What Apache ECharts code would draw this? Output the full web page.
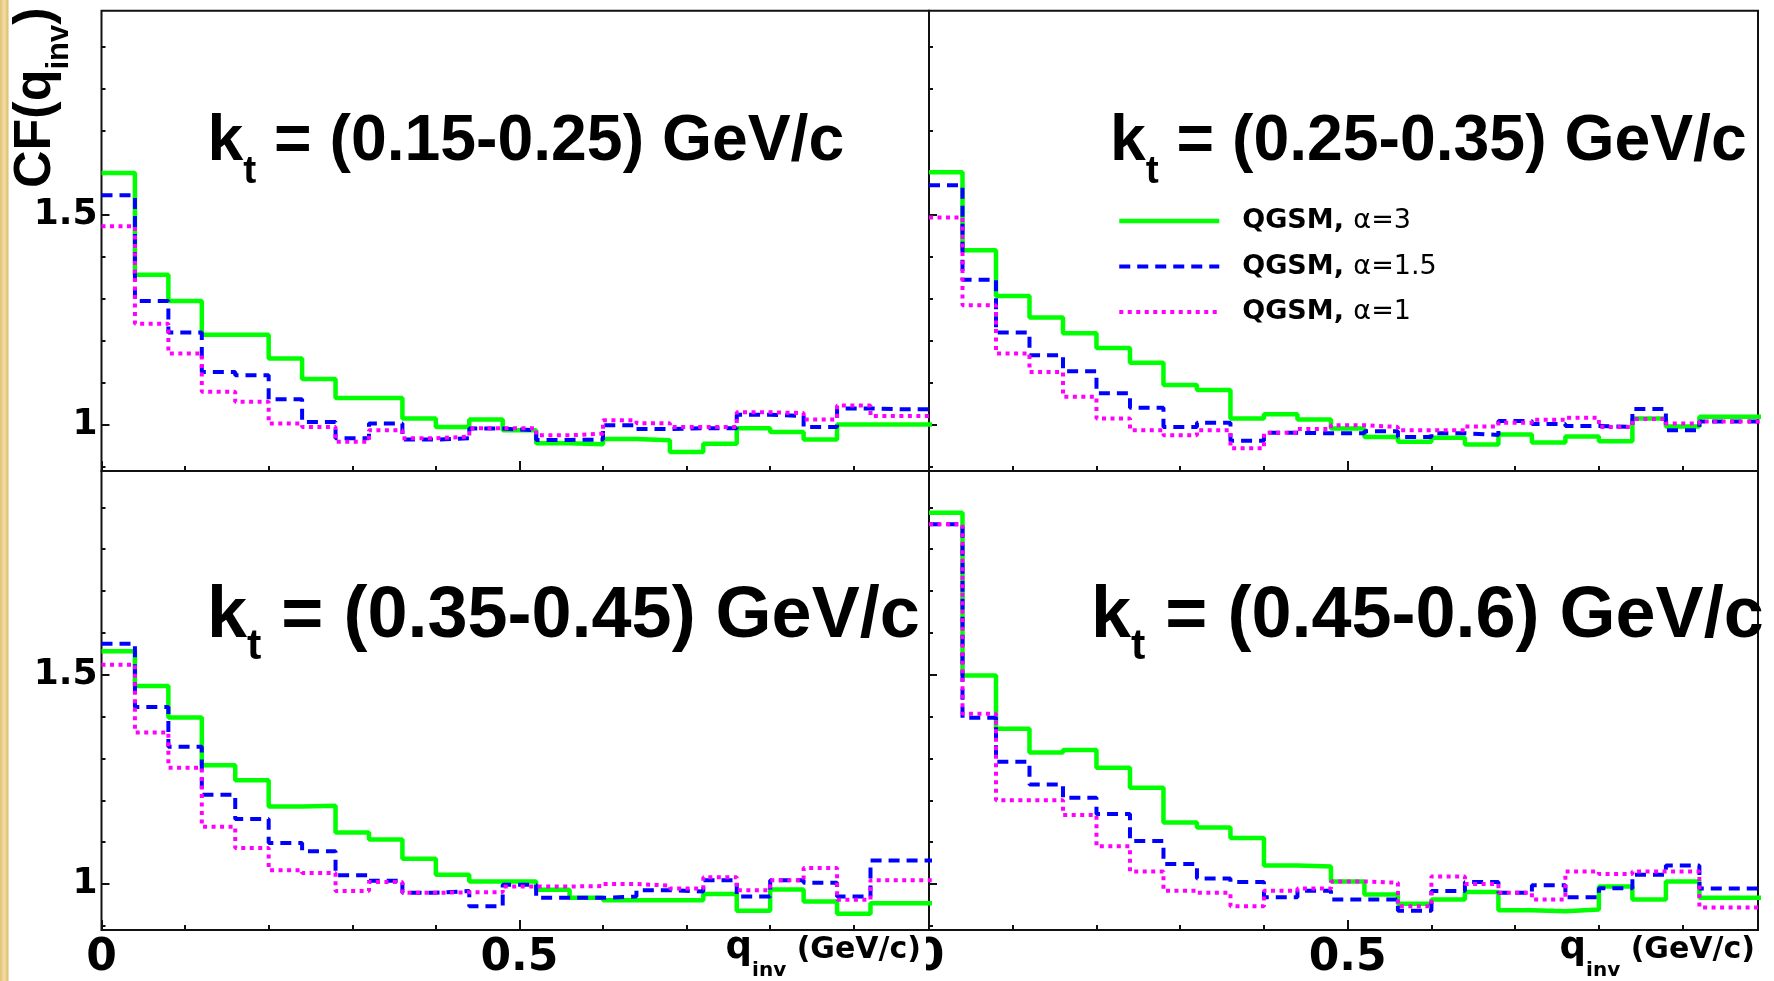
<!DOCTYPE html>
<html>
<head>
<meta charset="utf-8">
<script src="https://cdn.jsdelivr.net/npm/echarts@6/dist/echarts.min.js"></script>
<style>
  html, body { margin: 0; padding: 0; background: #ffffff; }
  #chart { width: 1774px; height: 981px; }
</style>
</head>
<body>
<div id="chart"></div>
<script>
// Histogram bin edges in q_inv (GeV/c)
const binEdges = [0, 0.04, 0.08, 0.12, 0.16, 0.2, 0.24, 0.28, 0.32, 0.36, 0.4, 0.44, 0.48,
  0.52, 0.56, 0.6, 0.64, 0.68, 0.72, 0.76, 0.8, 0.84, 0.88, 0.92, 0.96, 1.0];

// k_t ranges of the four panels
const ktRanges = ['(0.15-0.25)', '(0.25-0.35)', '(0.35-0.45)', '(0.45-0.6)'];

// Correlation function per bin, k_t = 0.15-0.25 GeV/c
const cfKt1Alpha3  = [1.600, 1.358, 1.295, 1.215, 1.215, 1.158, 1.109, 1.064, 1.064, 1.015, 0.995, 1.013, 0.987, 0.956, 0.954, 0.966, 0.963, 0.935, 0.955, 0.992, 0.983, 0.965, 1.001, 1.001, 1.001];
const cfKt1Alpha15 = [1.547, 1.295, 1.220, 1.126, 1.118, 1.061, 1.007, 0.968, 1.003, 0.965, 0.968, 0.991, 0.987, 0.964, 0.965, 0.999, 0.990, 0.992, 0.992, 1.024, 1.021, 0.995, 1.039, 1.037, 1.037];
const cfKt1Alpha1  = [1.473, 1.241, 1.170, 1.079, 1.055, 1.003, 0.995, 0.960, 0.987, 0.968, 0.972, 0.992, 0.992, 0.975, 0.979, 1.011, 1.004, 0.995, 0.995, 1.030, 1.028, 1.013, 1.046, 1.021, 1.021];

// k_t = 0.25-0.35 GeV/c
const cfKt2Alpha3  = [1.602, 1.416, 1.307, 1.256, 1.218, 1.183, 1.148, 1.095, 1.083, 1.015, 1.025, 1.013, 0.991, 0.971, 0.960, 0.969, 0.953, 0.977, 0.958, 0.972, 0.961, 1.015, 0.996, 1.019, 1.019];
const cfKt2Alpha15 = [1.571, 1.346, 1.220, 1.166, 1.128, 1.075, 1.041, 0.995, 1.005, 0.962, 0.981, 0.980, 0.980, 0.985, 0.971, 0.980, 0.976, 1.009, 1.002, 0.997, 0.995, 1.038, 0.987, 1.008, 1.008];
const cfKt2Alpha1  = [1.494, 1.285, 1.170, 1.126, 1.067, 1.015, 0.987, 0.975, 0.987, 0.944, 0.981, 0.990, 0.999, 0.995, 0.987, 0.987, 0.996, 1.005, 1.012, 1.017, 0.995, 1.014, 1.003, 1.008, 1.008];

// k_t = 0.35-0.45 GeV/c
const cfKt3Alpha3  = [1.556, 1.473, 1.398, 1.284, 1.248, 1.185, 1.187, 1.123, 1.106, 1.060, 1.022, 1.006, 1.006, 0.986, 0.967, 0.961, 0.961, 0.961, 0.976, 0.936, 0.987, 0.958, 0.929, 0.954, 0.954];
const cfKt3Alpha15 = [1.574, 1.423, 1.328, 1.213, 1.155, 1.098, 1.078, 1.021, 1.008, 0.979, 0.983, 0.947, 0.998, 0.967, 0.967, 0.970, 0.985, 0.982, 1.009, 0.970, 1.009, 1.003, 0.970, 1.056, 1.056];
const cfKt3Alpha1  = [1.524, 1.362, 1.278, 1.137, 1.086, 1.033, 1.026, 0.983, 1.005, 0.979, 0.980, 0.980, 0.994, 0.994, 0.995, 1.000, 0.996, 0.989, 1.016, 0.985, 1.009, 1.038, 0.962, 1.009, 1.009];

// k_t = 0.45-0.6 GeV/c
const cfKt4Alpha3  = [1.887, 1.498, 1.371, 1.314, 1.320, 1.278, 1.230, 1.147, 1.135, 1.110, 1.044, 1.042, 1.006, 0.975, 0.953, 0.963, 0.981, 0.937, 0.935, 0.939, 0.994, 0.963, 1.006, 0.967, 0.967];
const cfKt4Alpha15 = [1.860, 1.397, 1.292, 1.238, 1.206, 1.167, 1.103, 1.048, 1.013, 1.005, 0.968, 0.984, 0.963, 0.963, 0.936, 0.983, 1.005, 0.979, 0.997, 0.968, 0.990, 1.022, 1.044, 0.989, 0.989];
const cfKt4Alpha1  = [1.860, 1.407, 1.200, 1.200, 1.165, 1.090, 1.030, 0.984, 0.979, 0.947, 0.984, 0.989, 1.006, 1.003, 0.947, 1.018, 1.000, 0.979, 0.963, 1.030, 1.024, 1.030, 1.030, 0.944, 0.944];

// Axis ticks and labels
const xMinorTicks = [0.1, 0.2, 0.3, 0.4, 0.6, 0.7, 0.8, 0.9];
const xMajorTicks = [0, 0.5];
const xTickLabels = [0, 0.5];
const yMinorTicks = [0.9, 1.1, 1.2, 1.3, 1.4, 1.6, 1.7, 1.8, 1.9];
const yMajorTicks = [1.0, 1.5];
const yTickLabels = [1, 1.5];

const seriesNames = ['QGSM, \u03b1=3', 'QGSM, \u03b1=1.5', 'QGSM, \u03b1=1'];

const panelData = [
  [cfKt1Alpha3, cfKt1Alpha15, cfKt1Alpha1],
  [cfKt2Alpha3, cfKt2Alpha15, cfKt2Alpha1],
  [cfKt3Alpha3, cfKt3Alpha15, cfKt3Alpha1],
  [cfKt4Alpha3, cfKt4Alpha15, cfKt4Alpha1]
];

const X_MIN = 0, X_MAX = 0.99, Y_MIN = 0.89, Y_MAX = 1.987;
const FRAME = '#111111';

const lineStyles = [
  { color: '#00ff00', width: 4.5, type: 'solid' },
  { color: '#0000ff', width: 4, type: [11, 7] },
  { color: '#ff00ff', width: 4, type: [4, 4.5] }
];

const panels = [
  { left: 101.5, top: 10.7, width: 827.5, height: 460.3, showX: false, showY: true },
  { left: 929,   top: 10.7, width: 829,   height: 460.3, showX: false, showY: false },
  { left: 101.5, top: 471,  width: 827.5, height: 461.5, showX: true,  showY: true },
  { left: 929,   top: 471,  width: 829,   height: 461.5, showX: true,  showY: false }
];

// Step-histogram points: each bin value starts at its lower edge
function histPoints(values) {
  const pts = values.map((v, i) => [binEdges[i], v]);
  pts.push([binEdges[values.length], values[values.length - 1]]);
  return pts;
}

const grids = [], xAxes = [], yAxes = [], series = [];
panels.forEach((p, g) => {
  grids.push({
    left: p.left, top: p.top, width: p.width, height: p.height,
    show: true, borderColor: FRAME, borderWidth: 2, backgroundColor: 'transparent'
  });
  const tickLine = { color: FRAME, width: 2 };
  xAxes.push({
    type: 'value', gridIndex: g, min: X_MIN, max: X_MAX, position: 'bottom',
    axisLine: { show: false }, splitLine: { show: false },
    axisTick: { show: true, inside: true, length: 5, customValues: xMinorTicks, lineStyle: tickLine },
    axisLabel: {
      show: p.showX, customValues: xTickLabels, margin: 7, color: '#000',
      fontFamily: 'DejaVu Sans', fontWeight: 'bold', fontSize: 44,
      formatter: v => String(v)
    }
  });
  xAxes.push({
    type: 'value', gridIndex: g, min: X_MIN, max: X_MAX, position: 'bottom',
    axisLine: { show: false }, splitLine: { show: false }, axisLabel: { show: false },
    axisTick: { show: true, inside: true, length: 10, customValues: xMajorTicks, lineStyle: tickLine }
  });
  yAxes.push({
    type: 'value', gridIndex: g, min: Y_MIN, max: Y_MAX, position: 'left',
    axisLine: { show: false }, splitLine: { show: false },
    axisTick: { show: true, inside: true, length: 4, customValues: yMinorTicks, lineStyle: tickLine },
    axisLabel: {
      show: p.showY, customValues: yTickLabels, margin: 4, color: '#000',
      fontFamily: 'DejaVu Sans', fontWeight: 'bold', fontSize: 36,
      formatter: v => String(v)
    }
  });
  yAxes.push({
    type: 'value', gridIndex: g, min: Y_MIN, max: Y_MAX, position: 'left',
    axisLine: { show: false }, splitLine: { show: false }, axisLabel: { show: false },
    axisTick: { show: true, inside: true, length: 8, customValues: yMajorTicks, lineStyle: tickLine }
  });
  panelData[g].forEach((vals, s) => {
    series.push({
      type: 'line', name: seriesNames[s], step: 'end', symbol: 'none',
      xAxisIndex: 2 * g, yAxisIndex: 2 * g, data: histPoints(vals),
      lineStyle: lineStyles[s], itemStyle: { color: lineStyles[s].color },
      silent: true, clip: true, z: 2 + s
    });
  });
});

// Panel titles "k_t = (...) GeV/c"
const titlePos = [
  { x: 207.5, y: 110.5, size: 64.3, sub: 39, pad: 42 },
  { x: 1110,  y: 110.5, size: 64.3, sub: 39, pad: 42 },
  { x: 207,   y: 581, size: 72, sub: 43, pad: 45 },
  { x: 1091,  y: 581, size: 72, sub: 43, pad: 45 }
];
const titleElements = titlePos.map((t, i) => ({
  type: 'text', x: t.x, y: t.y, z: 20, silent: true,
  style: {
    text: '{m|k}{s|t}{m| = ' + ktRanges[i] + ' GeV/c}',
    align: 'left', verticalAlign: 'top', fill: '#000',
    rich: {
      m: { fontFamily: 'Liberation Sans', fontWeight: 'bold', fontSize: t.size, lineHeight: t.size, verticalAlign: 'top', fill: '#000' },
      s: { fontFamily: 'Liberation Sans', fontWeight: 'bold', fontSize: t.sub, lineHeight: t.sub, verticalAlign: 'top', padding: [t.pad, 0, 0, 0], fill: '#000' }
    }
  }
}));

// x-axis title "q_inv (GeV/c)", right-aligned under each lower panel
function xTitle(xRight, z) {
  return {
    type: 'text', x: xRight, y: 930, z: z, silent: true,
    style: {
      text: '{q|q}{s|inv}{m| (GeV/c)}', align: 'right', verticalAlign: 'top', fill: '#000',
      rich: {
        q: { fontFamily: 'DejaVu Sans', fontWeight: 'bold', fontSize: 37, lineHeight: 37, verticalAlign: 'top', padding: [0, 0, 0, 0], fill: '#000' },
        s: { fontFamily: 'DejaVu Sans', fontWeight: 'bold', fontSize: 20, lineHeight: 20, verticalAlign: 'top', padding: [31, 0, 0, 0], fill: '#000' },
        m: { fontFamily: 'DejaVu Sans', fontWeight: 'bold', fontSize: 30, lineHeight: 30, verticalAlign: 'top', padding: [5, 0, 0, 0], fill: '#000' }
      }
    }
  };
}

const option = {
  animation: false,
  backgroundColor: '#ffffff',
  grid: grids,
  xAxis: xAxes,
  yAxis: yAxes,
  series: series,
  legend: {
    data: seriesNames,
    orient: 'vertical', left: 1117, top: 207.5, padding: 0,
    itemWidth: 100, itemHeight: 30, itemGap: 18.5,
    selectedMode: false,
    lineStyle: { width: 'inherit' },
    itemStyle: { opacity: 0 },
    formatter: name => '{b|QGSM, }{a|' + name.split(', ')[1] + '}',
    textStyle: {
      color: '#000',
      rich: {
        b: { fontFamily: 'DejaVu Sans', fontWeight: 'bold', fontSize: 27, lineHeight: 30, padding: [0, 0, 0, 18], color: '#000' },
        a: { fontFamily: 'DejaVu Sans', fontSize: 27, lineHeight: 30, color: '#000' }
      }
    }
  },
  graphic: [
    {
      type: 'rect', z: 1, silent: true,
      shape: { x: 0, y: 0, width: 8.5, height: 981 },
      style: {
        fill: new echarts.graphic.LinearGradient(0, 0, 1, 0, [
          { offset: 0, color: '#e3c275' },
          { offset: 0.5, color: '#f3dea4' },
          { offset: 1, color: '#dcbb6c' }
        ])
      }
    },
    {
      type: 'text', x: 9, y: 188, rotation: Math.PI / 2, z: 20, silent: true,
      style: {
        text: '{m|CF(q}{s|inv}{m|)}', align: 'left', verticalAlign: 'top', fill: '#000',
        rich: {
          m: { fontFamily: 'Liberation Sans', fontWeight: 'bold', fontSize: 52, lineHeight: 52, verticalAlign: 'top', padding: [1, 0, 0, 0], fill: '#000' },
          s: { fontFamily: 'Liberation Sans', fontWeight: 'bold', fontSize: 31, lineHeight: 31, verticalAlign: 'top', padding: [35, 0, 0, 0], fill: '#000' }
        }
      }
    },
    // the lower-right "0" label is cut off at the pad edge
    {
      type: 'rect', z: 30, silent: true,
      shape: { x: 900, y: 936, width: 26, height: 45 },
      style: { fill: '#ffffff' }
    },
    xTitle(921, 31),
    xTitle(1755, 31)
  ].concat(titleElements)
};

const chart = echarts.init(document.getElementById('chart'), null, { renderer: 'canvas', width: 1774, height: 981 });
chart.setOption(option);
</script>
</body>
</html>
